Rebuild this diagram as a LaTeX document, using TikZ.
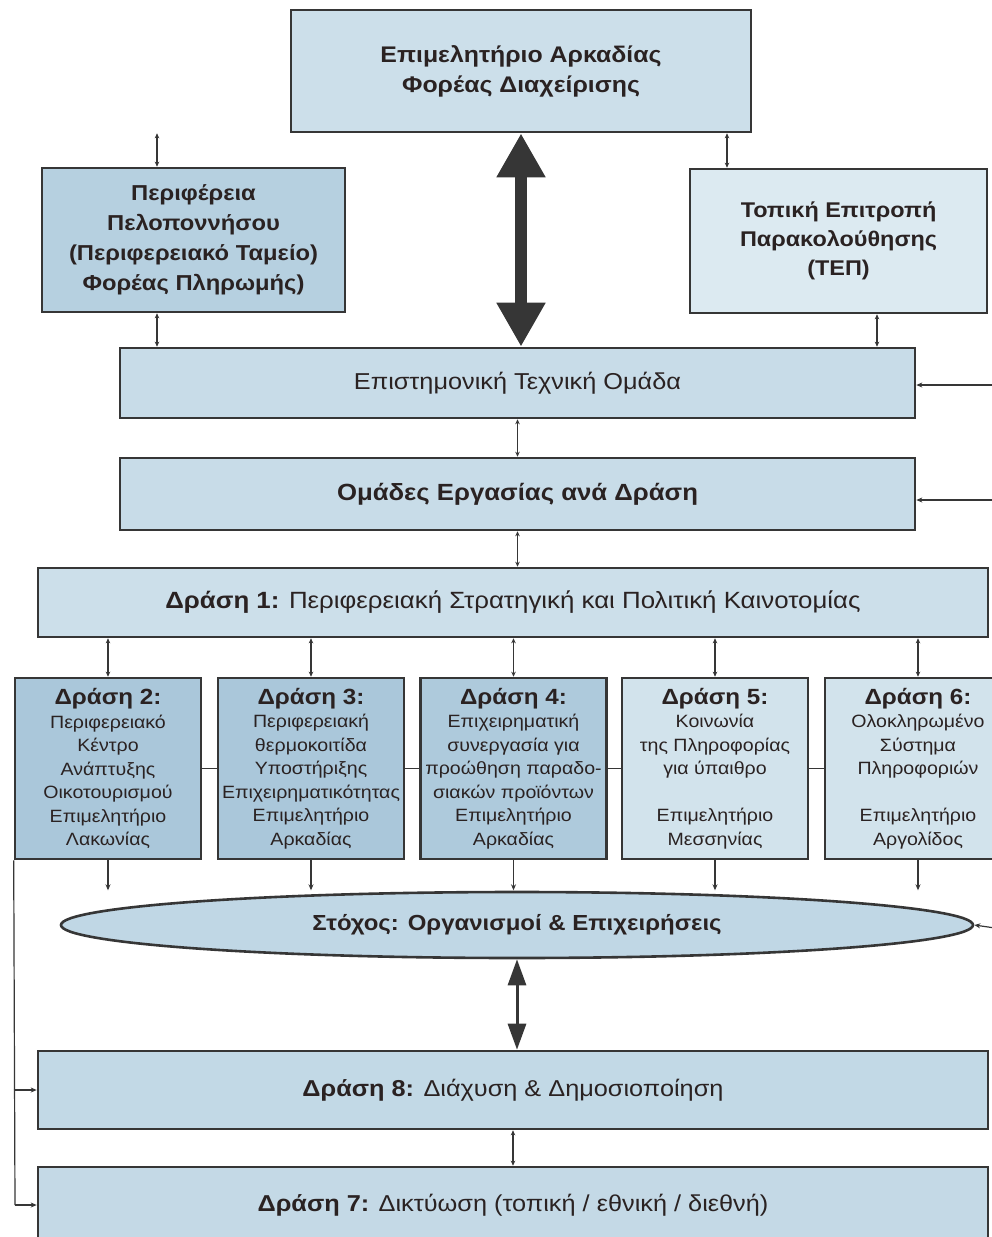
\documentclass[tikz,border=0pt]{standalone}
\usepackage{fontspec}
\setmainfont[FakeStretch=1.1]{Liberation Sans}
\usetikzlibrary{arrows.meta,shapes.geometric}
\definecolor{edge}{HTML}{363636}
\definecolor{ink}{HTML}{2A2222}
\definecolor{cTop}{HTML}{CCDFEA}
\definecolor{cLeft}{HTML}{B6D0E0}
\definecolor{cRight}{HTML}{DCEAF1}
\definecolor{cMid}{HTML}{C8DCE8}
\definecolor{cDark}{HTML}{AAC7DA}
\definecolor{cLight}{HTML}{D2E3EC}
\definecolor{cGoal}{HTML}{C0D7E5}
\begin{document}
\begin{tikzpicture}[x=1pt,y=-1pt,
  box/.style={draw=edge,line width=2.6pt,rectangle,inner sep=0pt,align=center,text=ink},
  actbox/.style={box,minimum width=186pt,minimum height=181pt,font=\fontsize{17.8}{23.5}\selectfont},
  sarr/.style={draw=edge,line width=1.2pt,{Stealth[length=5pt,width=4.5pt]}-{Stealth[length=5pt,width=4.5pt]}},
  darr/.style={draw=edge,line width=1.2pt,-{Stealth[length=6pt,width=5pt]}},
  link/.style={draw=edge,line width=1.2pt}
]
\newcommand\acthd[1]{{\bfseries\fontsize{22}{24}\selectfont #1}}
\useasboundingbox (0,0) rectangle (991,1237);
\fill[white] (0,0) rectangle (991,1237);

\node[box,fill=cTop,minimum width=460pt,minimum height=122pt,font=\bfseries\fontsize{22.6}{30}\selectfont] (top) at (521,71)
  {Επιμελητήριο Αρκαδίας\\Φορέας Διαχείρισης};
\node[box,fill=cLeft,minimum width=303pt,minimum height=144pt,font=\bfseries\fontsize{21.6}{30}\selectfont] (left) at (193.5,240)
  {Περιφέρεια\\Πελοποννήσου\\(Περιφερειακό Ταμείο)\\Φορέας Πληρωμής)};
\node[box,fill=cRight,minimum width=297pt,minimum height=144pt,font=\bfseries\fontsize{21.3}{29}\selectfont] (right) at (838.5,241)
  {Τοπική Επιτροπή\\Παρακολούθησης\\(ΤΕΠ)};
\node[box,fill=cMid,minimum width=795pt,minimum height=70pt,font=\fontsize{23}{26}\selectfont] (eto) at (517.5,383)
  {Επιστημονική Τεχνική Ομάδα};
\node[box,fill=cMid,minimum width=795pt,minimum height=72pt,font=\bfseries\fontsize{23.4}{26}\selectfont] (omades) at (517.5,494)
  {Ομάδες Εργασίας ανά Δράση};
\node[box,fill=cTop,minimum width=950pt,minimum height=69pt,font=\fontsize{23.5}{26}\selectfont] (d1) at (513,602.5)
  {\textbf{Δράση 1:} Περιφερειακή Στρατηγική και Πολιτική Καινοτομίας};

\node[actbox,fill=cDark] (d2) at (108,768.5)
  {\acthd{Δράση 2:}\\Περιφερειακό\\Κέντρο\\Ανάπτυξης\\Οικοτουρισμού\\Επιμελητήριο\\Λακωνίας};
\node[actbox,fill=cDark] (d3) at (311,768.5)
  {\acthd{Δράση 3:}\\Περιφερειακή\\θερμοκοιτίδα\\Υποστήριξης\\Επιχειρηματικότητας\\Επιμελητήριο\\Αρκαδίας};
\node[actbox,fill=cDark!90!cLight] (d4) at (513.5,768.5)
  {\acthd{Δράση 4:}\\Επιχειρηματική\\συνεργασία για\\προώθηση παραδο-\\σιακών προϊόντων\\Επιμελητήριο\\Αρκαδίας};
\node[actbox,fill=cLight] (d5) at (715,768.5)
  {\acthd{Δράση 5:}\\Κοινωνία\\της Πληροφορίας\\για ύπαιθρο\\\\Επιμελητήριο\\Μεσσηνίας};
\node[actbox,fill=cLight] (d6) at (918,768.5)
  {\acthd{Δράση 6:}\\Ολοκληρωμένο\\Σύστημα\\Πληροφοριών\\\\Επιμελητήριο\\Αργολίδος};

\node[ellipse,draw=edge,line width=2.6pt,fill=cGoal,inner sep=0pt,minimum width=912pt,minimum height=66pt,text=ink,font=\bfseries\fontsize{21.8}{26}\selectfont] (goal) at (517,925)
  {Στόχος: Οργανισμοί \& Επιχειρήσεις};

\node[box,fill=cGoal!80!cTop,minimum width=950pt,minimum height=78pt,font=\fontsize{23}{26}\selectfont] (d8) at (513,1090)
  {\textbf{Δράση 8:} Διάχυση \& Δημοσιοποίηση};
\node[box,fill=cGoal!70!cTop,minimum width=950pt,minimum height=76pt,font=\fontsize{23}{26}\selectfont] (d7) at (513,1205)
  {\textbf{Δράση 7:} Δικτύωση (τοπική / εθνική / διεθνή)};

% thick double arrow
\draw[draw=edge,line width=12pt,{Triangle[length=44pt,width=46pt]}-{Triangle[length=44pt,width=46pt]}]
  (top.south) -- (top.south |- eto.north);
% small connectors
\draw[sarr] ([xshift=-36.5pt]left.north |- top.south) -- ([xshift=-36.5pt]left.north);
\draw[sarr] ([xshift=-111.5pt]right.north |- top.south) -- ([xshift=-111.5pt]right.north);
\draw[sarr] ([xshift=-36.5pt]left.south) -- ([xshift=-36.5pt]left.south |- eto.north);
\draw[sarr] ([xshift=38.5pt]right.south) -- ([xshift=38.5pt]right.south |- eto.north);
\draw[sarr] (eto.south) -- (eto.south |- omades.north);
\draw[sarr] (omades.south) -- (omades.south |- d1.north);
\foreach \n in {d2,d3,d4,d5,d6}{
  \draw[sarr] (\n.north |- d1.south) -- (\n.north);
  \draw[darr] (\n.south) -- ++(0,30);
}
% horizontal links between action boxes
\draw[link] (d2.east) -- (d3.west);
\draw[link] (d3.east) -- (d4.west);
\draw[link] (d4.east) -- (d5.west);
\draw[link] (d5.east) -- (d6.west);
% goal <-> d8
\draw[draw=edge,line width=3pt,{Triangle[length=26pt,width=18pt]}-{Triangle[length=26pt,width=18pt]}]
  (goal.south) -- (goal.south |- d8.north);
\draw[sarr] (d8.south) -- (d8.south |- d7.north);
% left feedback line
\coordinate (lb) at (15,1205);
\draw[link] (d2.south west) -- (lb);
\draw[darr] (d2.south west |- d8.west) -- (d8.west);
\draw[darr] (lb) -- (d7.west);
% right side inputs
\coordinate (r1) at (995,385);
\coordinate (r2) at (995,500);
\coordinate (r3) at (995,928);
\draw[darr] (r1) -- (r1 -| eto.east);
\draw[darr] (r2) -- (r2 -| omades.east);
\draw[darr] (r3) -- (goal.east);
\end{tikzpicture}
\end{document}
